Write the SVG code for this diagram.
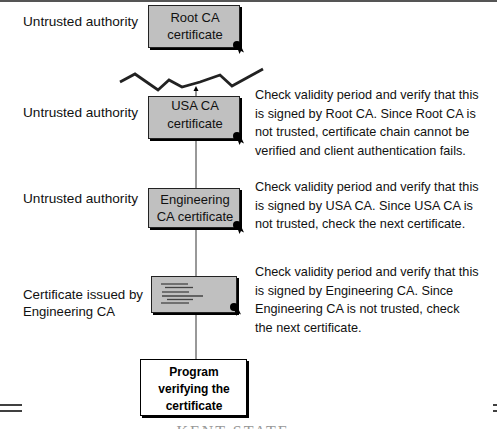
<svg xmlns="http://www.w3.org/2000/svg" width="497" height="429" viewBox="0 0 497 429">
<defs>
<style>
.lbl{font-family:"Liberation Sans","DejaVu Sans",sans-serif;font-size:13px;fill:#111}
.box{fill:#c0c0c0;stroke:#222;stroke-width:1}
.shd{fill:#000}
.bt{font-family:"Liberation Sans","DejaVu Sans",sans-serif;font-size:13px;fill:#111;text-anchor:middle}
.note{font-family:"Liberation Sans","DejaVu Sans",sans-serif;font-size:12.7px;fill:#111}
.pt{font-family:"Liberation Sans","DejaVu Sans",sans-serif;font-size:12px;font-weight:bold;fill:#000;text-anchor:middle}
.conn{stroke:#333;stroke-width:1;fill:none}
.doc{stroke:#444;stroke-width:1.3}
</style>
<g id="seal">
<path d="M0,2 L2.5,9 L4,6 L7,7.5 L3,-1 Z" fill="#000"/>
<circle cx="0" cy="0" r="4" fill="#000"/>
</g>
</defs>
<rect x="0" y="0" width="497" height="429" fill="#fff"/>
<rect x="0" y="0" width="497" height="2" fill="#555"/>

<g id="connectors">
<polyline points="120,82 135,74 158,90 169,80 182,87 200,82 220,75 232,86 263,69" fill="none" stroke="#222" stroke-width="2.8" stroke-linejoin="miter"/>
<line class="conn" x1="196" y1="96" x2="196" y2="90"/>
<path d="M193.5,91 L196,86 L198.5,91 Z" fill="#000"/>
<line class="conn" x1="196" y1="141" x2="196" y2="188"/>
<line class="conn" x1="196" y1="230" x2="196" y2="276"/>
<line class="conn" x1="196" y1="315" x2="196" y2="359"/>
</g>

<g id="root">
<text class="lbl" x="23" y="26" textLength="115" lengthAdjust="spacingAndGlyphs">Untrusted authority</text>
<rect class="shd" x="150" y="7" width="92" height="43"/>
<rect class="box" x="148.5" y="5.5" width="91" height="42"/>
<text class="bt" x="195" y="22">Root CA</text>
<text class="bt" x="195" y="39">certificate</text>
<use href="#seal" x="237" y="45"/>
</g>

<g id="usa">
<text class="lbl" x="23" y="117" textLength="115" lengthAdjust="spacingAndGlyphs">Untrusted authority</text>
<rect class="shd" x="150" y="98" width="92" height="43"/>
<rect class="box" x="148.5" y="96.5" width="91" height="42"/>
<text class="bt" x="195" y="110">USA CA</text>
<text class="bt" x="195" y="128">certificate</text>
<use href="#seal" x="237" y="136"/>
<text class="note" x="255" y="99">Check validity period and verify that this</text>
<text class="note" x="255" y="117.5">is signed by Root CA. Since Root CA is</text>
<text class="note" x="255" y="136">not trusted, certificate chain cannot be</text>
<text class="note" x="255" y="154.5">verified and client authentication fails.</text>
</g>

<g id="engineering">
<text class="lbl" x="23" y="203" textLength="115" lengthAdjust="spacingAndGlyphs">Untrusted authority</text>
<rect class="shd" x="150" y="190" width="92" height="40"/>
<rect class="box" x="148.5" y="188.5" width="91" height="39"/>
<text class="bt" x="195" y="204">Engineering</text>
<text class="bt" x="195" y="221">CA certificate</text>
<use href="#seal" x="237" y="225"/>
<text class="note" x="255" y="191">Check validity period and verify that this</text>
<text class="note" x="255" y="209.5">is signed by USA CA. Since USA CA is</text>
<text class="note" x="255" y="228">not trusted, check the next certificate.</text>
</g>

<g id="cert">
<text class="lbl" x="23" y="299" textLength="120" lengthAdjust="spacingAndGlyphs">Certificate issued by</text>
<text class="lbl" x="23" y="316" textLength="92" lengthAdjust="spacingAndGlyphs">Engineering CA</text>
<rect class="shd" x="153" y="278" width="86" height="37"/>
<rect class="box" x="151.5" y="276.5" width="85" height="36"/>
<line class="doc" x1="161" y1="284" x2="188" y2="284"/>
<line class="doc" x1="165" y1="287.5" x2="193" y2="287.5"/>
<line class="doc" x1="162" y1="292" x2="189" y2="292"/>
<line class="doc" x1="162" y1="296" x2="203" y2="296"/>
<line class="doc" x1="167" y1="299.5" x2="193" y2="299.5"/>
<line class="doc" x1="161" y1="303" x2="189" y2="303"/>
<use href="#seal" x="234" y="307"/>
<text class="note" x="255" y="276">Check validity period and verify that this</text>
<text class="note" x="255" y="294.5">is signed by Engineering CA. Since</text>
<text class="note" x="255" y="313">Engineering CA is not trusted, check</text>
<text class="note" x="255" y="331.5">the next certificate.</text>
</g>

<g id="program">
<rect class="shd" x="142" y="361" width="107" height="57"/>
<rect x="140.5" y="359.5" width="106" height="56" fill="#fff" stroke="#000" stroke-width="1"/>
<text class="pt" x="194" y="376">Program</text>
<text class="pt" x="194" y="393">verifying the</text>
<text class="pt" x="194" y="410">certificate</text>
</g>

<line x1="0" y1="405" x2="22" y2="405" stroke="#000" stroke-width="1.5"/>
<line x1="0" y1="411" x2="22" y2="411" stroke="#000" stroke-width="1.5"/>
<line x1="493" y1="405" x2="497" y2="405" stroke="#000" stroke-width="1.5"/>
<line x1="493" y1="411" x2="497" y2="411" stroke="#000" stroke-width="1.5"/>
<text x="233" y="437" text-anchor="middle" font-family="'Liberation Serif',serif" font-size="16" letter-spacing="2" fill="#999">KENT STATE</text>
</svg>
